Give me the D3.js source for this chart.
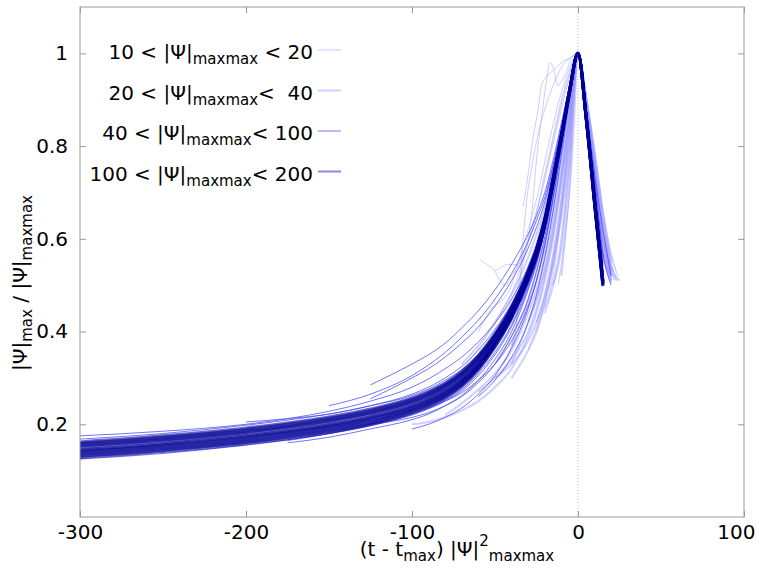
<!DOCTYPE html>
<html>
<head>
<meta charset="utf-8">
<script src="https://cdn.jsdelivr.net/npm/d3@7"></script>
<style>
  html, body { margin: 0; padding: 0; background: #fff; }
  text { font-family: "DejaVu Sans", sans-serif; fill: #000; white-space: pre; }
</style>
</head>
<body>
<svg id="chart" width="758" height="569"></svg>
<script>
// ---------- data ----------
const xTicks = [-300, -200, -100, 0, 100];
const yTicks = [0.2, 0.4, 0.6, 0.8, 1];

const legendPre  = ["10 < |Ψ|", "20 < |Ψ|", "40 < |Ψ|", "100 < |Ψ|"];
const legendPost = [" < 20", "<  40", "< 100", "< 200"];

// shared x grid for the smoother families
const gridX = [-300,-250,-200,-175,-150,-125,-100,-90,-80,-70,-60,-50,-40,-30,-25,-20,-15,-10,-5,0,5,10,15,20,25];

// 100 < |psi|maxmax < 200
const seriesD = [
  [0.128,0.141,0.158,0.169,0.182,0.199,0.224,0.238,0.256,0.281,0.317,0.366,0.428,0.510,0.561,0.627,0.719,0.816,0.917,1,0.860,0.685,0.510,null,null],
  [0.134,0.147,0.164,0.175,0.188,0.205,0.230,0.244,0.262,0.287,0.322,0.371,0.432,0.513,0.564,0.630,0.721,0.817,0.918,1,0.860,0.683,0.508,null,null],
  [0.140,0.153,0.170,0.181,0.194,0.211,0.235,0.249,0.267,0.292,0.327,0.376,0.436,0.517,0.567,0.632,0.723,0.819,0.919,1,0.860,0.681,0.506,null,null],
  [0.145,0.158,0.175,0.186,0.199,0.216,0.240,0.254,0.272,0.297,0.332,0.380,0.440,0.520,0.570,0.635,0.725,0.820,0.920,1,0.860,0.680,0.505,null,null],
  [0.150,0.163,0.180,0.191,0.204,0.221,0.245,0.259,0.277,0.302,0.337,0.385,0.444,0.523,0.573,0.638,0.727,0.821,0.921,1,0.858,0.678,0.503,null,null],
  [0.156,0.169,0.186,0.197,0.210,0.227,0.251,0.265,0.283,0.308,0.343,0.390,0.449,0.527,0.576,0.641,0.729,0.823,0.922,1,0.857,0.676,0.500,null,null],
  [0.162,0.175,0.192,0.203,0.216,0.233,0.257,0.271,0.289,0.314,0.349,0.396,0.454,0.531,0.580,0.644,0.732,0.825,0.923,1,0.856,0.674,0.498,null,null],
  [0.143,0.156,0.173,0.184,0.197,0.214,0.238,0.252,0.270,0.295,0.330,0.378,0.438,0.519,0.569,0.634,0.724,0.820,0.920,1,0.860,0.680,0.505,null,null],
  [0.137,0.150,0.167,0.178,0.191,0.208,0.232,0.246,0.264,0.289,0.325,0.373,0.434,0.515,0.566,0.631,0.722,0.818,0.919,1,0.860,0.682,0.507,null,null],
  [0.131,0.144,0.161,0.172,0.185,0.202,0.227,0.241,0.259,0.284,0.320,0.369,0.430,0.512,0.563,0.629,0.720,0.817,0.918,1,0.860,0.684,0.509,null,null],
  [0.153,0.166,0.183,0.194,0.207,0.224,0.248,0.262,0.280,0.305,0.340,0.388,0.447,0.525,0.575,0.640,0.728,0.822,0.921,1,0.858,0.677,0.502,null,null],
  [0.159,0.172,0.189,0.200,0.213,0.230,0.254,0.268,0.286,0.311,0.346,0.393,0.452,0.529,0.578,0.643,0.731,0.824,0.922,1,0.857,0.675,0.499,null,null]
];

// 40 < |psi|maxmax < 100
const seriesC = [
  [0.168,0.180,0.198,0.209,0.222,0.240,0.265,0.280,0.300,0.325,0.360,0.405,0.460,0.535,0.585,0.650,0.735,0.830,0.925,1,0.870,0.700,0.530,null,null],
  [null,null,null,null,null,0.285,0.330,0.350,0.375,0.408,0.445,0.490,0.545,0.610,0.650,0.700,0.770,0.850,0.930,1,0.880,0.740,0.620,0.520,null],
  [null,null,null,null,0.240,0.265,0.305,0.328,0.355,0.388,0.425,0.470,0.525,0.595,0.640,0.690,0.760,0.840,0.920,1,0.870,0.700,0.530,null,null],
  [null,null,null,0.165,0.180,0.200,0.222,0.235,0.252,0.275,0.310,0.355,0.415,0.500,0.550,0.620,0.710,0.810,0.910,1,0.860,0.690,0.520,null,null],
  [null,null,null,null,null,null,0.190,0.200,0.215,0.235,0.265,0.305,0.365,0.450,0.510,0.590,0.690,0.800,0.910,1,0.860,0.680,0.510,null,null],
  [null,null,null,null,null,null,null,null,null,null,0.260,0.295,0.345,0.420,0.480,0.560,0.660,0.780,0.900,1,0.870,0.710,0.540,null,null],
  [0.125,0.137,0.155,0.166,0.180,0.197,0.220,0.233,0.250,0.272,0.305,0.350,0.410,0.495,0.550,0.625,0.720,0.815,0.915,1,0.865,0.695,0.520,null,null],
  [0.175,0.185,0.200,0.212,0.228,0.250,0.280,0.298,0.320,0.345,0.378,0.418,0.470,0.540,0.585,0.650,0.735,0.825,0.920,1,0.860,0.690,0.520,null,null],
  [null,null,null,0.160,0.172,0.190,0.210,0.222,0.240,0.262,0.295,0.340,0.400,0.490,0.545,0.620,0.715,0.810,0.910,1,0.850,0.670,0.500,null,null],
  [null,null,null,null,null,0.200,0.215,0.225,0.240,0.260,0.290,0.330,0.390,0.470,0.530,0.605,0.700,0.805,0.910,1,0.880,0.730,0.570,0.500,null],
  [null,null,0.205,0.212,0.222,0.240,0.262,0.276,0.295,0.318,0.350,0.395,0.450,0.525,0.575,0.645,0.730,0.825,0.920,1,0.870,0.710,0.545,null,null],
  [null,null,null,null,null,null,null,0.235,0.250,0.268,0.295,0.330,0.380,0.455,0.510,0.585,0.685,0.795,0.905,1,0.865,0.700,0.535,null,null],
  [null,null,null,null,null,0.255,0.300,0.320,0.345,0.375,0.410,0.455,0.510,0.580,0.625,0.680,0.755,0.835,0.920,1,0.875,0.720,0.560,null,null]
];

// 20 < |psi|maxmax < 40
const seriesB = [
  [null,null,null,null,null,null,0.200,0.205,0.215,0.230,0.250,0.280,0.320,0.390,0.440,0.510,0.600,0.720,0.860,1,0.900,0.760,0.620,0.530,null],
  [null,null,null,null,null,null,null,null,0.220,0.245,0.275,0.310,0.360,0.440,0.490,0.560,0.650,0.760,0.880,1,0.880,0.720,0.560,null,null],
  [null,null,null,null,null,null,null,null,null,null,0.270,0.300,0.340,0.400,0.450,0.520,0.610,0.730,0.870,1,0.890,0.740,0.590,0.510,null],
  [null,null,null,null,null,null,null,null,null,null,null,null,0.370,0.460,0.510,0.580,0.670,0.780,0.890,1,0.870,0.700,0.540,null,null],
  [null,null,null,null,null,null,null,null,null,null,null,0.330,0.390,0.470,0.530,0.600,0.690,0.800,0.900,1,0.860,0.690,0.520,null,null],
  [null,null,null,null,null,null,null,null,null,null,null,null,null,null,0.420,0.470,0.550,0.660,0.820,1,0.900,0.770,0.640,0.540,0.510],
  [null,null,null,null,null,null,null,null,null,null,null,null,null,null,null,null,0.500,0.600,0.780,1,0.880,0.740,0.600,0.510,null],
  [0.160,0.170,0.185,0.195,0.210,0.225,0.250,0.265,0.285,0.310,0.345,0.395,0.455,0.540,0.590,0.660,0.745,0.835,0.925,1,0.870,0.720,0.570,0.520,null],
  [null,null,null,null,null,null,null,null,null,0.330,0.370,0.420,0.480,0.560,0.610,0.670,0.750,0.840,0.930,1,0.900,0.790,0.660,0.550,null],
  [null,null,null,null,null,null,null,null,null,null,null,null,null,null,null,null,null,0.520,0.720,1,0.860,0.700,0.550,null,null],
  [null,null,null,null,null,null,null,null,null,null,null,0.300,0.330,0.380,0.420,0.480,0.560,0.680,0.840,1,0.880,0.730,0.580,0.505,null],
  [null,null,null,null,null,null,null,null,null,null,null,null,0.330,0.420,0.470,0.540,0.630,0.740,0.870,1,0.890,0.750,0.610,0.520,null],
  [null,null,null,null,null,null,null,null,null,null,null,null,0.300,0.360,0.400,0.460,0.540,0.650,0.800,1,0.880,0.720,0.570,0.510,null],
  [null,null,null,null,null,null,null,null,null,null,null,null,null,0.420,0.470,0.530,0.620,0.730,0.860,1,0.870,0.710,0.550,null,null],
  [null,null,null,null,null,null,null,null,null,null,null,null,null,null,null,0.440,0.500,0.580,0.760,1,0.890,0.750,0.610,0.525,null]
];

// 10 < |psi|maxmax < 20 (irregular, given as [x, y] points)
const seriesA = [
  [[-59,0.555],[-55,0.545],[-50,0.53],[-47,0.51],[-44,0.50],[-40,0.52],[-35,0.55],[-30,0.60],[-25,0.66],[-20,0.74],[-15,0.82],[-10,0.90],[-5,0.96],[0,1],[5,0.90],[10,0.76],[15,0.62],[20,0.53]],
  [[-40,0.45],[-33,0.55],[-28,0.65],[-25,0.77],[-22,0.86],[-19,0.94],[-17,0.98],[-15,0.97],[-12,0.93],[-10,0.94],[-7,0.96],[-4,0.99],[0,1],[5,0.90],[10,0.75],[15,0.60],[21,0.52]],
  [[-33,0.67],[-30,0.74],[-27,0.82],[-24,0.88],[-22,0.93],[-19,0.95],[-16,0.96],[-13,0.97],[-10,0.98],[-5,0.99],[0,1],[6,0.88],[12,0.72],[18,0.58],[23,0.51]],
  [[-45,0.33],[-40,0.37],[-37,0.42],[-35,0.50],[-33,0.60],[-31,0.68],[-28,0.75],[-25,0.81],[-20,0.88],[-15,0.93],[-10,0.97],[-5,0.99],[0,1],[5,0.89],[10,0.74],[16,0.58],[22,0.51]],
  [[-95,0.24],[-85,0.27],[-75,0.30],[-65,0.34],[-55,0.39],[-45,0.45],[-38,0.50],[-32,0.57],[-26,0.64],[-20,0.73],[-14,0.83],[-8,0.92],[-3,0.98],[0,1],[6,0.88],[12,0.72],[18,0.57],[23,0.51]],
  [[-20,0.45],[-15,0.52],[-12,0.60],[-8,0.72],[-5,0.83],[-2,0.94],[0,1],[4,0.93],[8,0.82],[13,0.67],[18,0.56],[22,0.51]],
  [[-12,0.50],[-8,0.60],[-5,0.70],[-2,0.86],[0,1],[4,0.92],[9,0.78],[14,0.64],[19,0.54],[24,0.51]],
  [[-60,0.40],[-52,0.45],[-45,0.47],[-40,0.50],[-36,0.55],[-30,0.62],[-24,0.70],[-18,0.80],[-12,0.89],[-6,0.96],[0,1],[5,0.90],[10,0.77],[15,0.62],[20,0.52]],
  [[-50,0.53],[-46,0.54],[-42,0.545],[-37,0.544],[-33,0.56],[-28,0.62],[-22,0.70],[-16,0.79],[-10,0.88],[-5,0.95],[0,1],[5,0.91],[11,0.76],[17,0.61],[24,0.52]],
  [[-30,0.36],[-25,0.41],[-20,0.48],[-15,0.57],[-10,0.69],[-5,0.84],[0,1],[5,0.91],[10,0.79],[16,0.64],[23,0.53]],
  [[-25,0.40],[-20,0.46],[-16,0.53],[-12,0.62],[-8,0.74],[-4,0.88],[0,1],[5,0.90],[10,0.78],[15,0.65],[21,0.53]]
];

// ---------- chart ----------
const W = 758, H = 569;
const L = 80, R = 744, T = 7, B = 517;
const svg = d3.select("#chart");

const x = d3.scaleLinear().domain([-300, 100]).range([L, R]);
const y = d3.scaleLinear().domain([0, 1.1]).range([B, T]);

svg.append("rect").attr("width", W).attr("height", H).attr("fill", "#fff");

svg.append("defs").append("clipPath").attr("id", "clip")
  .append("rect").attr("x", L).attr("y", T).attr("width", R - L).attr("height", B - T);

// zero line
svg.append("line")
  .attr("x1", x(0)).attr("x2", x(0)).attr("y1", T).attr("y2", B)
  .attr("stroke", "#bbb").attr("stroke-width", 1).attr("stroke-dasharray", "1,2");

const styles = [
  { color: "rgb(195,195,255)", width: 1,   opacity: 0.85, legendWidth: 1, legendOpacity: 0.85 },
  { color: "rgb(150,150,255)", width: 2,   opacity: 0.45, legendWidth: 2, legendOpacity: 0.45 },
  { color: "rgb(70,70,250)",   width: 1,   opacity: 0.75, legendWidth: 1, legendOpacity: 0.75 },
  { color: "rgb(0,0,150)",     width: 3,   opacity: 0.6,  legendWidth: 2, legendOpacity: 0.55 }
];

const line = d3.line()
  .defined(d => d[1] != null)
  .x(d => x(d[0])).y(d => y(d[1]))
  .curve(d3.curveMonotoneX);

const plot = svg.append("g").attr("clip-path", "url(#clip)");

function drawGroup(curves, st) {
  plot.append("g").selectAll("path").data(curves).join("path")
    .attr("d", d => line(d))
    .attr("fill", "none")
    .attr("stroke", st.color)
    .attr("stroke-width", st.width)
    .attr("stroke-opacity", st.opacity)
    .attr("stroke-linejoin", "round");
}
const toPts = ys => gridX.map((gx, i) => [gx, ys[i]]);

drawGroup(seriesA, styles[0]);
drawGroup(seriesB.map(toPts), styles[1]);
drawGroup(seriesC.map(toPts), styles[2]);
drawGroup(seriesD.map(toPts), styles[3]);

// axes
const axisColor = "#999";
const fs = "20px", fsSub = "15px";
function styleAxis(g) {
  g.select(".domain").remove();
  g.selectAll(".tick line").attr("stroke", axisColor);
  g.selectAll(".tick text").style("font-size", fs).attr("font-family", null);
}
const xAxisG = svg.append("g").attr("transform", `translate(0,${B})`)
  .call(d3.axisBottom(x).tickValues(xTicks).tickSize(-6).tickSizeOuter(0).tickPadding(8)
    .tickFormat(d => String(d)))
  .call(styleAxis);
// keep the last label inside the picture
xAxisG.selectAll(".tick text").filter(d => d === 100)
  .attr("text-anchor", "end").attr("x", W - 3 - R);
svg.append("g").attr("transform", `translate(${L},0)`)
  .call(d3.axisLeft(y).tickValues(yTicks).tickSize(-6).tickSizeOuter(0).tickPadding(12)
    .tickFormat(d => d === 1 ? "1" : d3.format(".1f")(d)))
  .call(styleAxis);
svg.append("g").attr("transform", `translate(0,${T})`)
  .call(d3.axisTop(x).tickValues(xTicks).tickSize(-6).tickSizeOuter(0).tickFormat(""))
  .call(styleAxis);
svg.append("g").attr("transform", `translate(${R},0)`)
  .call(d3.axisRight(y).tickValues(yTicks).tickSize(-6).tickSizeOuter(0).tickFormat(""))
  .call(styleAxis);
svg.selectAll("text").attr("font-family", "DejaVu Sans").attr("fill", "#000");

// border
svg.append("rect").attr("x", L).attr("y", T).attr("width", R - L).attr("height", B - T)
  .attr("fill", "none").attr("stroke", axisColor).attr("stroke-width", 1);

// y label
const yl = svg.append("text")
  .attr("transform", `translate(27,${283}) rotate(-90)`)
  .attr("text-anchor", "middle").style("font-size", fs);
yl.append("tspan").text("|Ψ|");
yl.append("tspan").text("max").style("font-size", fsSub).attr("dy", 5);
yl.append("tspan").text(" / |Ψ|").attr("dy", -5);
yl.append("tspan").text("maxmax").style("font-size", fsSub).attr("dy", 5);

// x label
const xl = svg.append("text")
  .attr("x", 457).attr("y", 556)
  .attr("text-anchor", "middle").style("font-size", fs);
xl.append("tspan").text("(t - t");
xl.append("tspan").text("max").style("font-size", fsSub).attr("dy", 5);
xl.append("tspan").text(") |Ψ|").attr("dy", -5);
xl.append("tspan").text("2").style("font-size", fsSub).attr("dy", -10);
xl.append("tspan").text("maxmax").style("font-size", fsSub).attr("dy", 15);

// legend
const legY = [50, 90.5, 131, 171.5];
legendPre.forEach((pre, i) => {
  const t = svg.append("text")
    .attr("x", 313).attr("y", legY[i] + 9)
    .attr("text-anchor", "end").style("font-size", fs);
  t.append("tspan").text(pre);
  t.append("tspan").text("maxmax").style("font-size", fsSub).attr("dy", 5);
  t.append("tspan").text(legendPost[i]).attr("dy", -5);
  svg.append("line")
    .attr("x1", 318).attr("x2", 341).attr("y1", legY[i]).attr("y2", legY[i])
    .attr("stroke", i === 3 ? "rgb(40,40,210)" : styles[i].color)
    .attr("stroke-width", styles[i].legendWidth)
    .attr("stroke-opacity", styles[i].legendOpacity);
});
</script>
</body>
</html>
